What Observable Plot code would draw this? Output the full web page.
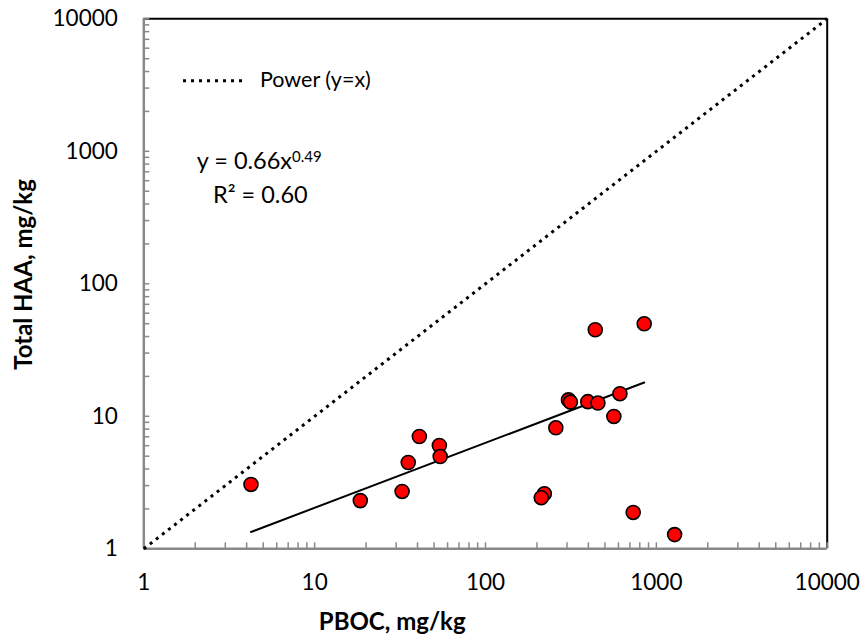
<!DOCTYPE html>
<html><head><meta charset="utf-8">
<script src="https://cdn.jsdelivr.net/npm/d3@7"></script>
<script src="https://cdn.jsdelivr.net/npm/@observablehq/plot@0.6"></script>
<style>
body{margin:0;background:#fff;}
#chart svg{display:block;}
</style>
</head><body><div id="chart"></div>
<script>
// ---- data ----
const pboc = [4.24, 18.5, 32.5, 35.3, 41.0, 53.7, 54.3, 439, 849, 306, 314, 397, 455, 612, 564, 258, 221, 212, 732, 1279];
const haa  = [3.06, 2.31, 2.71, 4.48, 7.04, 6.02, 4.97, 45.0, 49.9, 13.3, 12.8, 12.9, 12.6, 14.8, 9.97, 8.19, 2.60, 2.43, 1.88, 1.28];
const majorTicks = [1, 10, 100, 1000, 10000];
const tickLabels = ["1", "10", "100", "1000", "10000"];
const fitCoef = 0.66;
const fitExp = 0.49;
const fitR2 = "0.60";
const fitXRange = [4.24, 849];
const identityRange = [1, 10000];
const xTitle = "PBOC, mg/kg";
const yTitle = "Total HAA, mg/kg";
const legendLabel = "Power (y=x)";

// ---- derived ----
const points = pboc.map((x, i) => ({x, y: haa[i]}));
const fitLine = fitXRange.map(x => ({x, y: fitCoef * Math.pow(x, fitExp)}));
const idLine = identityRange.map(v => ({x: v, y: v}));
const minorTicks = [];
for (const d of majorTicks.slice(0, -1)) for (let k = 2; k <= 9; k++) minorTicks.push(d * k);
const allTicks = majorTicks.concat(minorTicks);

const W = 865, H = 640, mL = 143.3, mR = 38.3, mT = 18.3, mB = 91.7;
const fh = H - mT - mB, fw = W - mL - mR;
const font = "Lato, 'Liberation Sans', sans-serif";
const gray = "#898989";

const chart = Plot.plot({
  width: W, height: H,
  marginLeft: mL, marginRight: mR, marginTop: mT, marginBottom: mB,
  x: {type: "log", domain: [1, 10000]},
  y: {type: "log", domain: [1, 10000]},
  style: {fontFamily: font, fontSize: "22.5px", color: "#000", background: "#fff", overflow: "visible"},
  marks: [
    Plot.ruleY([10000], {stroke: "#000", strokeWidth: 2}),
    Plot.ruleX([10000], {stroke: "#000", strokeWidth: 2}),
    Plot.ruleX(allTicks, {stroke: gray, strokeWidth: 1.5, insetTop: fh - 6}),
    Plot.ruleY(allTicks, {stroke: gray, strokeWidth: 1.5, insetRight: fw - 6}),
    Plot.ruleX([1], {stroke: gray, strokeWidth: 2.5}),
    Plot.ruleY([1], {stroke: gray, strokeWidth: 2.5}),
    Plot.axisX(majorTicks, {tickSize: 0, tickPadding: 25, label: null, fontSize: 22.5,
      tickFormat: d => tickLabels[majorTicks.indexOf(d)]}),
    Plot.axisY(majorTicks, {tickSize: 0, tickPadding: 26, label: null, fontSize: 22.5,
      tickFormat: d => tickLabels[majorTicks.indexOf(d)]}),
    Plot.line(idLine, {x: "x", y: "y", stroke: "#000", strokeWidth: 3,
      strokeDasharray: "3,4.7", strokeLinecap: "butt"}),
    Plot.line(fitLine, {x: "x", y: "y", stroke: "#000", strokeWidth: 2}),
    Plot.dot(points, {x: "x", y: "y", r: 7, fill: "#ff0000", stroke: "#000", strokeWidth: 1.6}),
    Plot.text([xTitle], {frameAnchor: "bottom-left", dx: 248.4, dy: 80.7, text: d => d,
      fontWeight: "bold", fontSize: 24, textAnchor: "middle"}),
    Plot.text([yTitle], {frameAnchor: "left", dx: -119.3, dy: -9.3, rotate: -90, text: d => d,
      fontWeight: "bold", fontSize: 24, textAnchor: "middle"})
  ]
});
document.getElementById("chart").appendChild(chart);

// ---- legend and equation annotations ----
const svg = d3.select(chart);
const g = svg.append("g").attr("font-family", font).attr("fill", "#000").attr("text-anchor", "start");
g.append("line").attr("x1", 183).attr("x2", 247).attr("y1", 80.7).attr("y2", 80.7)
  .attr("stroke", "#000").attr("stroke-width", 3)
  .attr("stroke-dasharray", "3,5");
g.append("text").attr("x", 260).attr("y", 87.3).attr("font-size", 21.5).text(legendLabel);
const eq = g.append("text").attr("x", 196.7).attr("y", 169).attr("font-size", 23.5);
eq.append("tspan").text(`y = ${fitCoef}x`);
eq.append("tspan").attr("font-size", 15).attr("dy", -7).text(`${fitExp}`);
g.append("text").attr("x", 213).attr("y", 203.3).attr("font-size", 23.5).text(`R² = ${fitR2}`);
</script>
</body></html>
